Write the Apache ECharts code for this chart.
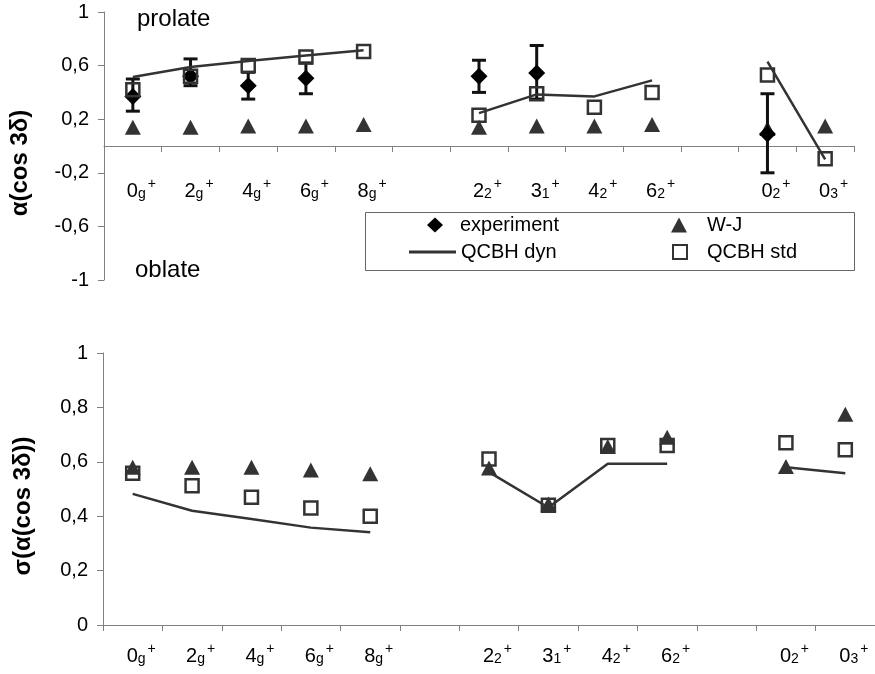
<!DOCTYPE html>
<html><head><meta charset="utf-8">
<script src="https://cdn.jsdelivr.net/npm/echarts@6/dist/echarts.min.js"></script>
<style>html,body{margin:0;padding:0;background:#fff}#c{width:875px;height:674px}</style>
</head><body><div id="c"></div>
<script>
// categories: main|subscript ('' = empty slot)
const categories = ['0|g','2|g','4|g','6|g','8|g','','2|2','3|1','4|2','6|2','','0|2','0|3'];

// top panel: alpha(cos 3 delta)
const topExperiment = [0.37, 0.52, 0.45, 0.505, null, null, 0.52, 0.545, null, null, null, 0.09, null];
const topExpLow     = [0.26, 0.45, 0.35, 0.39, null, null, 0.40, 0.35, null, null, null, -0.20, null];
const topExpHigh    = [0.50, 0.65, 0.55, 0.62, null, null, 0.64, 0.75, null, null, null, 0.39, null];
const topWJ   = [0.14, 0.14, 0.15, 0.15, 0.16, null, 0.14, 0.15, 0.15, 0.16, null, 0.13, 0.15];
const topDyn  = [0.515, 0.59, 0.635, 0.675, 0.715, null, 0.245, 0.385, 0.37, 0.49, null, 0.63, -0.10];
const topStd  = [0.42, 0.52, 0.60, 0.665, 0.705, null, 0.23, 0.39, 0.29, 0.40, null, 0.53, -0.095];

// bottom panel: sigma(alpha(cos 3 delta))
const botWJ  = [0.58, 0.58, 0.58, 0.57, 0.556, null, 0.577, 0.445, 0.656, 0.69, null, 0.583, 0.775];
const botStd = [0.558, 0.512, 0.47, 0.43, 0.40, null, 0.61, 0.44, 0.66, 0.66, null, 0.67, 0.644];
const botDyn = [0.482, 0.42, 0.39, 0.358, 0.341, null, 0.562, 0.432, 0.593, 0.593, null, 0.58, 0.558];

const topTicks = {min: -1, max: 1, interval: 0.4};
const botTicks = {min: 0, max: 1, interval: 0.2};

const FONT = 'Liberation Sans, Arial, sans-serif';
const AXC = '#808080';

function nz(a){ return a.map(v => v == null ? '-' : v); }
function errData(lo, hi){
  const d = [];
  categories.forEach((c, i) => { if (lo[i] != null) d.push([i, lo[i], hi[i]]); });
  return d;
}
function catFmt(v){
  if (!v) return '';
  const p = v.split('|');
  return '{sp| }{m|' + p[0] + '}{s|' + p[1] + '}{p|+}';
}
const catRich = {
  sp: {width: 17, fontSize: 14, lineHeight: 14},
  m: {fontSize: 20, lineHeight: 24, verticalAlign: 'bottom', color: '#000', fontFamily: FONT},
  s: {fontSize: 14, lineHeight: 14, verticalAlign: 'bottom', color: '#000', fontFamily: FONT},
  p: {fontSize: 14, lineHeight: 14, verticalAlign: 'top', color: '#000', fontFamily: FONT, padding: [0, 0, 0, 2]}
};
function yFmt(v){
  const r = Math.round(v * 10) / 10;
  if (Number.isInteger(r)) return String(r);
  return r.toFixed(1).replace('.', ',');
}
function xAxis(grid, margin, offset){
  return {
    type: 'category', gridIndex: grid, data: categories, boundaryGap: true, position: 'bottom', offset: offset,
    axisLine: {show: true, onZero: false, lineStyle: {color: AXC, width: 1}},
    axisTick: {show: true, length: 6, inside: false, alignWithLabel: false, interval: 0, lineStyle: {color: AXC, width: 1}},
    axisLabel: {interval: 0, margin: margin, formatter: catFmt, rich: catRich, color: '#000'},
    splitLine: {show: false}
  };
}
function yAxis(grid, ticks, name, gap){
  return {
    type: 'value', gridIndex: grid, min: ticks.min, max: ticks.max, interval: ticks.interval,
    axisLine: {show: true, onZero: false, lineStyle: {color: AXC, width: 1}},
    axisTick: {show: true, length: 6, inside: false, lineStyle: {color: AXC, width: 1}},
    axisLabel: {margin: 15, fontSize: 20, color: '#000', fontFamily: FONT, formatter: yFmt},
    splitLine: {show: false},
    name: name, nameLocation: 'middle', nameGap: gap, nameMoveOverlap: false,
    nameTextStyle: {fontSize: 24, fontWeight: 'bold', color: '#000', fontFamily: FONT, padding: [0, 34, 0, 0]}
  };
}
function errSeries(xi, yi, lo, hi){
  return {
    type: 'custom', xAxisIndex: xi, yAxisIndex: yi, z: 3, silent: true,
    data: errData(lo, hi), encode: {x: 0, y: [1, 2]},
    renderItem: function(params, api){
      const i = api.value(0);
      const a = api.coord([i, api.value(1)]);
      const b = api.coord([i, api.value(2)]);
      const cap = 7;
      const st = {stroke: '#111', lineWidth: 3};
      return {type: 'group', children: [
        {type: 'line', shape: {x1: a[0], y1: a[1], x2: b[0], y2: b[1]}, style: st},
        {type: 'line', shape: {x1: a[0] - cap, y1: a[1], x2: a[0] + cap, y2: a[1]}, style: st},
        {type: 'line', shape: {x1: b[0] - cap, y1: b[1], x2: b[0] + cap, y2: b[1]}, style: st}
      ]};
    }
  };
}
function wj(xi, data){
  return {name: 'W-J', type: 'scatter', xAxisIndex: xi, yAxisIndex: xi, z: 2, data: nz(data),
    symbol: 'triangle', symbolSize: [16, 15], itemStyle: {color: '#333', opacity: 1}};
}
function std(xi, data){
  return {name: 'QCBH std', type: 'scatter', xAxisIndex: xi, yAxisIndex: xi, z: 4, data: nz(data),
    symbol: 'rect', symbolSize: 13, itemStyle: {color: 'rgba(255,255,255,0)', borderColor: '#333', borderWidth: 2.5, opacity: 1}};
}
function dyn(xi, data){
  return {name: 'QCBH dyn', type: 'line', xAxisIndex: xi, yAxisIndex: xi, z: 5, data: nz(data),
    symbol: 'none', showSymbol: false, connectNulls: false, lineStyle: {color: '#333', width: 2.5}, itemStyle: {color: '#333'}};
}
function leg(left, top, w, h, pad, item){
  return {orient: 'vertical', left: left, top: top, padding: 0, itemWidth: w, itemHeight: h,
    selectedMode: false,
    textStyle: {fontSize: 20, color: '#000', fontFamily: FONT, padding: [0, 0, 0, pad]}, data: [item]};
}

const chart = echarts.init(document.getElementById('c'), null, {renderer: 'canvas'});
chart.setOption({
  animation: false,
  backgroundColor: '#fff',
  textStyle: {fontFamily: FONT},
  grid: [
    {left: 104, top: 12, width: 750, height: 268, outerBoundsMode: 'none', containLabel: false},
    {left: 103, top: 353, width: 772, height: 272, outerBoundsMode: 'none', containLabel: false}
  ],
  xAxis: [xAxis(0, 31, -134), xAxis(1, 17, 0)],
  yAxis: [yAxis(0, topTicks, 'α(cos 3δ)', 72), yAxis(1, botTicks, 'σ(α(cos 3δ))', 68)],
  legend: [
    leg(427, 215, 16, 15, 12, {name: 'experiment', icon: 'diamond'}),
    leg(409, 242, 47, 3, 0, {name: 'QCBH dyn', icon: 'rect', itemStyle: {color: '#333', borderWidth: 0}}),
    leg(671, 215, 16, 15, 15, {name: 'W-J', icon: 'triangle'}),
    leg(672, 242, 14, 14, 15, {name: 'QCBH std', icon: 'rect'})
  ],
  graphic: [
    {type: 'rect', left: 363, top: 210, shape: {width: 489, height: 58}, style: {fill: 'none', stroke: '#666', lineWidth: 1}, z: 10},
    {type: 'text', x: 137, y: 19, style: {text: 'prolate', fontSize: 24, fill: '#000', fontFamily: FONT, verticalAlign: 'middle', align: 'left'}, z: 10},
    {type: 'text', x: 135, y: 270, style: {text: 'oblate', fontSize: 24, fill: '#000', fontFamily: FONT, verticalAlign: 'middle', align: 'left'}, z: 10}
  ],
  series: [
    wj(0, topWJ),
    errSeries(0, 0, topExpLow, topExpHigh),
    {name: 'experiment', type: 'scatter', xAxisIndex: 0, yAxisIndex: 0, z: 3, data: nz(topExperiment),
     symbol: 'diamond', symbolSize: [17, 17], itemStyle: {color: '#000', opacity: 1}},
    std(0, topStd),
    dyn(0, topDyn),
    wj(1, botWJ),
    std(1, botStd),
    dyn(1, botDyn)
  ]
});
</script>
</body></html>
